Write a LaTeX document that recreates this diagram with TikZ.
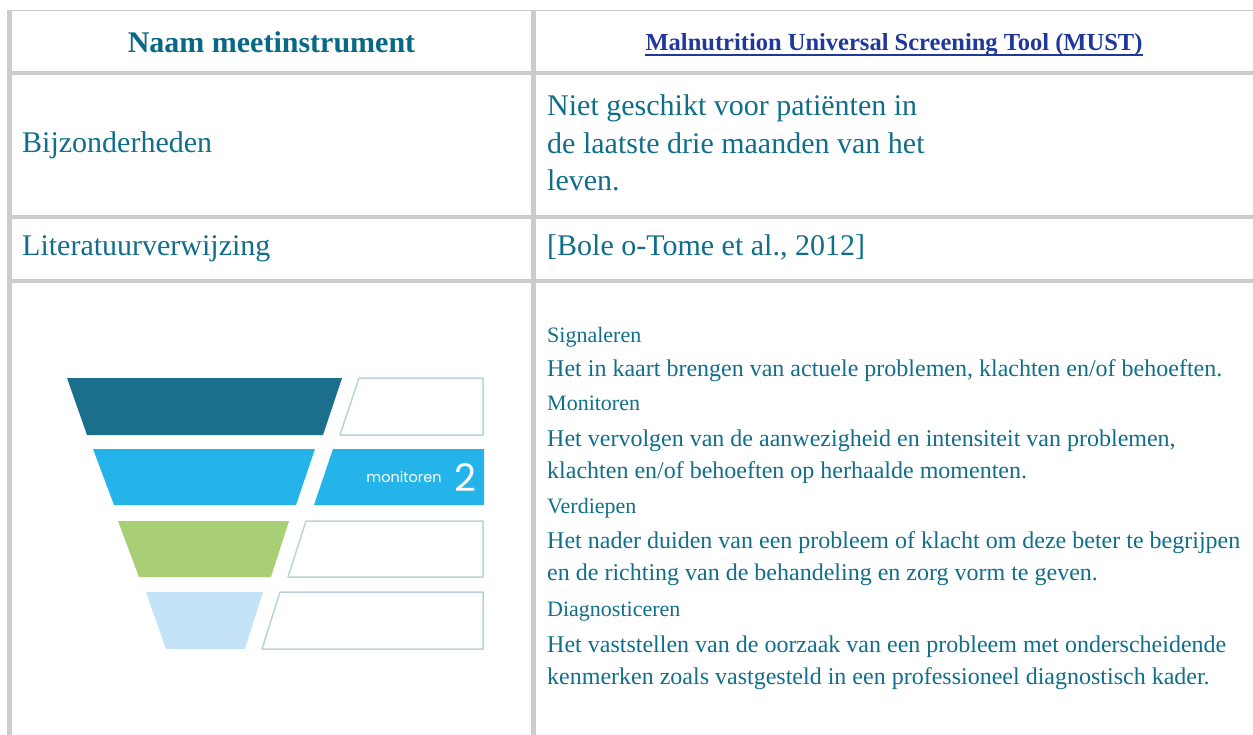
\documentclass[tikz,border=0pt]{standalone}
\usepackage{fontspec}
\setmainfont{Liberation Serif}
\newfontfamily\boxfont{Poppins}
\usepackage{tikz}
\usetikzlibrary{positioning}
\usetikzlibrary{calc}
\definecolor{grid}{RGB}{204,204,204}
\definecolor{tekst}{RGB}{16,110,138}
\definecolor{kop}{RGB}{8,104,134}
\definecolor{link}{RGB}{32,56,156}
\definecolor{laag1}{RGB}{27,111,140}
\definecolor{laag2}{RGB}{37,180,233}
\definecolor{laag3}{RGB}{168,207,118}
\definecolor{laag4}{RGB}{197,227,246}
\definecolor{rand}{RGB}{185,210,220}
\tikzstyle{lijn} = [draw=grid, line width=4.5pt]
\tikzstyle{dunlijn} = [draw=grid, line width=1.5pt]
\tikzstyle{kopcel} = [inner sep=0pt, anchor=base, text=kop, font=\bfseries\fontsize{30}{36}\selectfont]
\tikzstyle{linkcel} = [inner sep=0pt, anchor=base, text=link, font=\bfseries\fontsize{24.5}{30}\selectfont]
\tikzstyle{cel} = [inner sep=0pt, anchor=base west, text=tekst, font=\fontsize{30}{36}\selectfont]
\tikzstyle{titel} = [inner sep=0pt, anchor=base west, text=tekst, font=\fontsize{22}{26}\selectfont]
\tikzstyle{regel} = [inner sep=0pt, anchor=base west, text=tekst, font=\fontsize{24}{29}\selectfont]
\tikzstyle{vak} = [draw=rand, line width=1.5pt, fill=white, line join=round]

\begin{document}
\begin{tikzpicture}[x=1pt, y=-1pt]
    \useasboundingbox (0,0) rectangle (1253,735);

    % tabel
    \coordinate (lb) at (7,10.5);
    \coordinate (rb) at (1253,10.5);
    \draw [dunlijn] (lb) -- (rb);
    \draw [lijn] (9.5,10) -- (9.5,735);
    \draw [lijn] (533.5,10) -- (533.5,735);
    \draw [lijn] (7,73) -- (1253,73);
    \draw [lijn] (7,217) -- (1253,217);
    \draw [lijn] (7,281) -- (1253,281);

    \node [kopcel] (naam) at (271.5,53) {Naam meetinstrument};
    \node [linkcel] (must) at (894,51) {Malnutrition Universal Screening Tool (MUST)};
    \draw [draw=link, line width=2pt] ($(must.base west)+(0,4.5)$) -- ($(must.base east)+(0,4.5)$);

    \node [cel] (bijz) at (22,153) {Bijzonderheden};
    \node [cel] (niet1) at (547,116) {Niet geschikt voor patiënten in};
    \node [cel] (niet2) at (547,153.5) {de laatste drie maanden van het};
    \node [cel] (niet3) at (547,191) {leven.};

    \node [cel] (lit) at (22,256) {Literatuurverwijzing};
    \node [cel] (bron) at (547,256) {[Bole o-Tome et al., 2012]};

    \node [titel] (sig) at (547,342) {Signaleren};
    \node [regel] (sig1) at (547,376) {Het in kaart brengen van actuele problemen, klachten en/of behoeften.};
    \node [titel] (mon) at (547,410) {Monitoren};
    \node [regel] (mon1) at (547,446) {Het vervolgen van de aanwezigheid en intensiteit van problemen,};
    \node [regel] (mon2) at (547,478) {klachten en/of behoeften op herhaalde momenten.};
    \node [titel] (ver) at (547,513) {Verdiepen};
    \node [regel] (ver1) at (547,548) {Het nader duiden van een probleem of klacht om deze beter te begrijpen};
    \node [regel] (ver2) at (547,580) {en de richting van de behandeling en zorg vorm te geven.};
    \node [titel] (dia) at (547,616) {Diagnosticeren};
    \node [regel] (dia1) at (547,652) {Het vaststellen van de oorzaak van een probleem met onderscheidende};
    \node [regel] (dia2) at (547,684) {kenmerken zoals vastgesteld in een professioneel diagnostisch kader.};

    % trechter
    \fill [laag1] (67,378) -- (342,378) -- (323,435) -- (87,435) -- cycle;
    \fill [laag2] (93,449) -- (315,449) -- (296,505) -- (114,505) -- cycle;
    \fill [laag3] (118,521) -- (289,521) -- (271,577) -- (139,577) -- cycle;
    \fill [laag4] (146,592) -- (263,592) -- (245,649) -- (166,649) -- cycle;

    \draw [vak] (359,378) -- (483,378) -- (483,435) -- (340,435) -- cycle;
    \fill [laag2] (333,449) -- (484,449) -- (484,505) -- (314,505) -- cycle;
    \draw [vak] (306,521) -- (483,521) -- (483,577) -- (288,577) -- cycle;
    \draw [vak] (280,592) -- (483,592) -- (483,649) -- (262,649) -- cycle;

    \node [inner sep=0pt, text=white, font=\boxfont\fontsize{14.5}{17}\selectfont] (mtxt) at (404,477) {monitoren};
    \node [inner sep=0pt, text=white, font=\boxfont\fontsize{38}{40}\selectfont] (mnr) at (465,478) {2};
\end{tikzpicture}
\end{document}
